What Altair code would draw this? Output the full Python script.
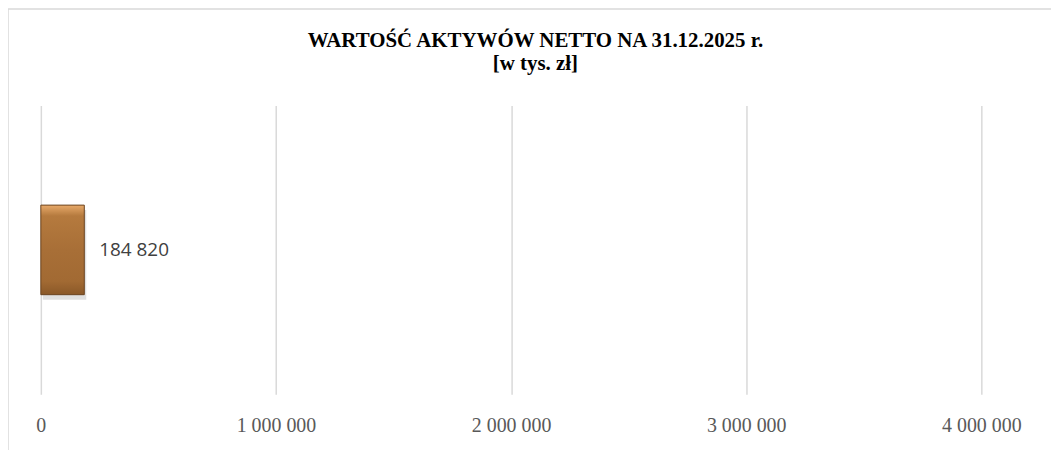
import altair as alt
import pandas as pd

categories = ["Wartość aktywów netto"]
values = [184820]
labels = ["184 820"]
x_ticks = [0, 1000000, 2000000, 3000000, 4000000]
title_lines = ["WARTOŚĆ AKTYWÓW NETTO NA 31.12.2025 r.", "[w tys. zł]"]

df = pd.DataFrame({"cat": categories, "value": values, "label": labels})

W, H = 945, 290

x_enc = alt.X(
    "value:Q",
    scale=alt.Scale(domain=[0, 4000000], nice=False),
    axis=alt.Axis(
        values=x_ticks,
        title=None,
        domain=False,
        ticks=False,
        grid=True,
        gridColor="#D9D9D9",
        gridWidth=1.5,
        labelFont="Liberation Serif",
        labelFontSize=20,
        labelColor="#595959",
        labelPadding=21,
        labelFlush=False,
        labelOverlap=False,
        labelExpr="replace(format(datum.value, ','), /,/g, ' ')",
    ),
)
y_enc = alt.Y("cat:N", axis=None)

base = alt.Chart(df)

shadow = base.mark_bar(size=90, color="#000000", opacity=0.12, yOffset=5, xOffset=2).encode(
    x=x_enc, y=y_enc
)

bar = base.mark_bar(
    size=90,
    stroke="#6B4420",
    strokeWidth=1,
    color=alt.Gradient(
        gradient="linear",
        stops=[
            alt.GradientStop(color="#E8AA6A", offset=0),
            alt.GradientStop(color="#B57A3E", offset=0.12),
            alt.GradientStop(color="#A86F37", offset=0.5),
            alt.GradientStop(color="#A26A33", offset=0.85),
            alt.GradientStop(color="#8A5828", offset=1),
        ],
        x1=0, x2=0, y1=0, y2=1,
    ),
).encode(x=x_enc, y=y_enc)

text = base.mark_text(
    align="left",
    baseline="middle",
    dx=15,
    font="Open Sans",
    fontSize=19,
    color="#404040",
).encode(x=x_enc, y=y_enc, text="label:N")

tdf = pd.DataFrame({"t": title_lines, "i": [0, 1]})
title1 = alt.Chart(tdf.iloc[[0]]).mark_text(
    font="Liberation Serif", fontSize=21, fontWeight="bold", color="#000000",
    align="center", baseline="middle",
).encode(text="t:N", x=alt.value(497), y=alt.value(-65))
title2 = alt.Chart(tdf.iloc[[1]]).mark_text(
    font="Liberation Serif", fontSize=21, fontWeight="bold", color="#000000",
    align="center", baseline="middle",
).encode(text="t:N", x=alt.value(497), y=alt.value(-42))

border_top = alt.Chart(pd.DataFrame({"a": [0]})).mark_rule(color="#D9D9D9", strokeWidth=1.5).encode(
    x=alt.value(-33), x2=alt.value(1040), y=alt.value(-97)
)
border_left = alt.Chart(pd.DataFrame({"a": [0]})).mark_rule(color="#D9D9D9", strokeWidth=1.5).encode(
    x=alt.value(-33), y=alt.value(-97), y2=alt.value(350)
)

chart = (
    alt.layer(border_top, border_left, title1, title2, shadow, bar, text)
    .properties(
        width=W,
        height=H,
        background="#FFFFFF",
        autosize=alt.AutoSizeParams(type="none"),
        padding={"left": 33, "top": 97, "right": 70, "bottom": 55},
    )
    .configure_view(strokeWidth=0, stroke="transparent")
)

chart.save("out.html", embed_options={"renderer": "svg", "actions": False})
